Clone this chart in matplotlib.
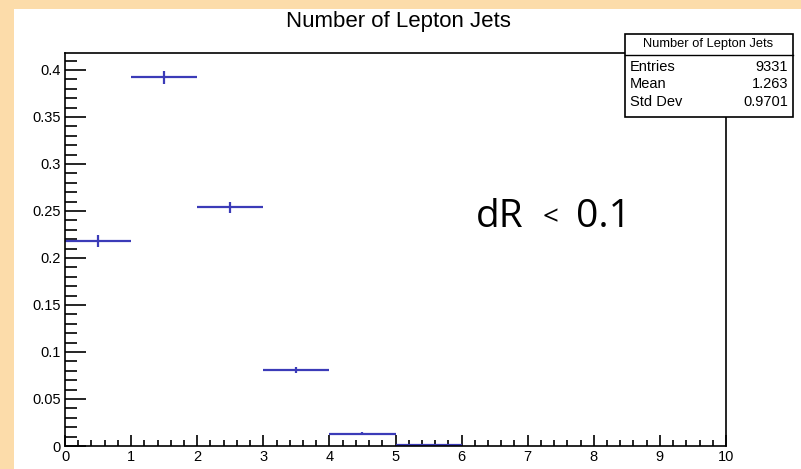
import matplotlib
matplotlib.use("Agg")
import matplotlib.pyplot as plt
from matplotlib.patches import Rectangle
from matplotlib.ticker import MultipleLocator

# histogram values (normalised)
bin_centres = [0.5, 1.5, 2.5, 3.5, 4.5, 5.5]
bin_half_width = [0.5, 0.5, 0.5, 0.5, 0.5, 0.5]
fractions = [0.218, 0.392, 0.254, 0.081, 0.013, 0.0012]
errors = [0.006, 0.0072, 0.006, 0.0032, 0.0015, 0.0005]

stats_names = ["Entries", "Mean", "Std Dev"]
stats_values = ["9331", "1.263", "0.9701"]

W, H = 801, 469
fig = plt.figure(figsize=(W / 100, H / 100), dpi=100)
fig.patch.set_facecolor("white")


def fx(x):
    return x / W


def fy(y):
    return 1 - y / H


# peach border on the left and top
orange = "#fcdcaa"
fig.add_artist(Rectangle((0, 0), fx(14), 1, transform=fig.transFigure,
                         facecolor=orange, edgecolor="none", zorder=0))
fig.add_artist(Rectangle((0, fy(9)), 1, 1 - fy(9), transform=fig.transFigure,
                         facecolor=orange, edgecolor="none", zorder=0))

ax = fig.add_axes([fx(65), fy(446), fx(726) - fx(65), fy(53) - fy(446)])
ax.errorbar(bin_centres, fractions, xerr=bin_half_width, yerr=errors,
            fmt="none", ecolor="#3b3bb8", elinewidth=1.6, capsize=0)

ax.set_xlim(0, 10)
ax.set_ylim(0, 0.418)
ax.xaxis.set_major_locator(MultipleLocator(1))
ax.xaxis.set_minor_locator(MultipleLocator(0.2))
ax.yaxis.set_major_locator(MultipleLocator(0.05))
ax.yaxis.set_minor_locator(MultipleLocator(0.01))
ax.tick_params(which="both", direction="in", top=False, right=False,
               color="black", width=1.2)
ax.tick_params(axis="x", which="major", length=8, pad=3)
ax.tick_params(axis="x", which="minor", length=4)
ax.tick_params(axis="y", which="major", length=15, pad=3)
ax.tick_params(axis="y", which="minor", length=8.5)
ax.set_yticks([0, 0.05, 0.1, 0.15, 0.2, 0.25, 0.3, 0.35, 0.4])
ax.set_yticklabels(["0", "0.05", "0.1", "0.15", "0.2", "0.25", "0.3", "0.35", "0.4"])
for lab in ax.get_xticklabels() + ax.get_yticklabels():
    lab.set_fontfamily("Liberation Sans")
    lab.set_fontsize(10.5)
for s in ax.spines.values():
    s.set_linewidth(1.2)
    s.set_color("black")

# title
fig.text(fx(398), fy(22), "Number of Lepton Jets", ha="center", va="center",
         fontsize=16, family="Liberation Sans")

# stats box
fig.add_artist(Rectangle((fx(625), fy(117)), fx(793) - fx(625), fy(34) - fy(117),
                         transform=fig.transFigure, facecolor="white",
                         edgecolor="black", linewidth=1.2, zorder=5))
fig.add_artist(plt.Line2D([fx(625), fx(793)], [fy(55), fy(55)],
                          transform=fig.transFigure, color="black",
                          linewidth=1.0, zorder=6))
fig.text(fx(708), fy(44.5), "Number of Lepton Jets", ha="center", va="center",
         fontsize=9.3, family="Liberation Sans", zorder=7)
for i, (name, val) in enumerate(zip(stats_names, stats_values)):
    y = 67 + i * 17.5
    fig.text(fx(630), fy(y), name, ha="left", va="center", fontsize=10.5,
             family="Liberation Sans", zorder=7)
    fig.text(fx(788), fy(y), val, ha="right", va="center", fontsize=10.5,
             family="Liberation Sans", zorder=7)

# annotation
pieces = [("dR", 476, 28, 227), ("<", 543, 20, 225), ("0.1", 576, 28, 227)]
for txt, x, size, base in pieces:
    fig.text(fx(x), fy(base), txt, ha="left", va="baseline",
             fontsize=size, family="Open Sans")

fig.savefig("out.png", dpi=100)
